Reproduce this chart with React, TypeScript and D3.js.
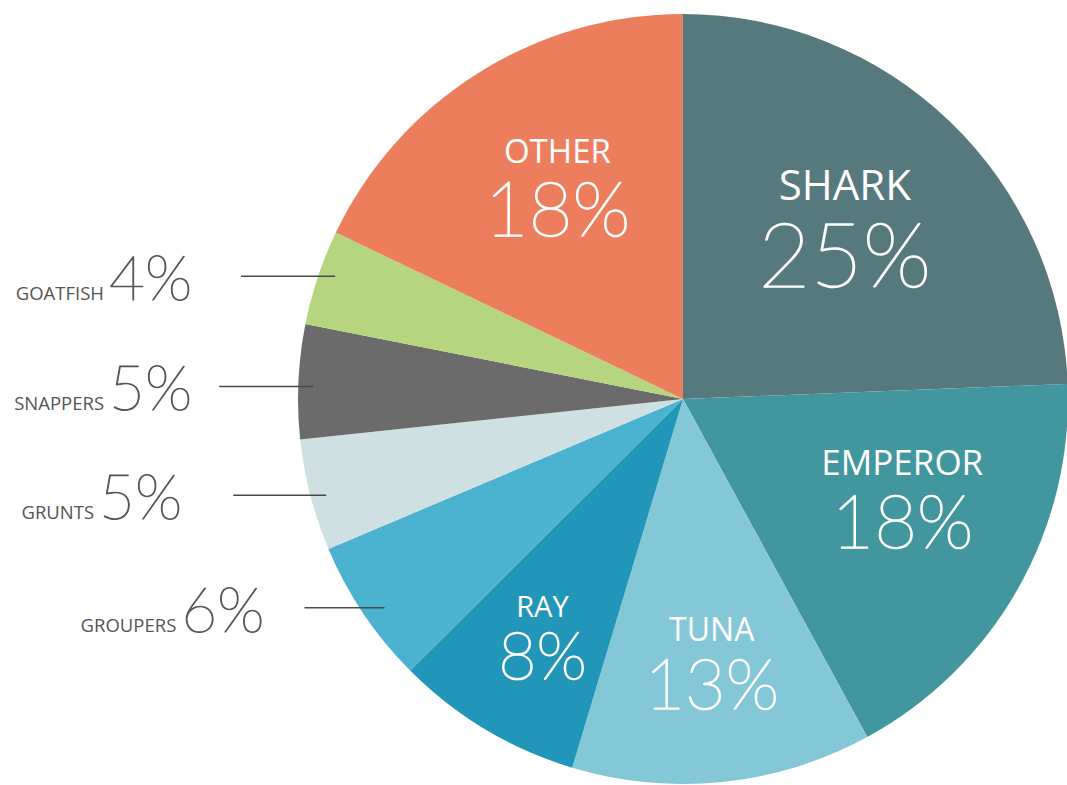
import React, { useMemo } from "react";
import * as d3 from "d3";

// catch composition by family (share of total)
const categories = ["SHARK", "EMPEROR", "TUNA", "RAY", "GROUPERS", "GRUNTS", "SNAPPERS", "GOATFISH", "OTHER"];
const shares = [24.4, 17.7, 12.6, 7.9, 6.1, 4.7, 4.8, 4.0, 17.9];
const pctLabels = ["25%", "18%", "13%", "8%", "6%", "5%", "5%", "4%", "18%"];
const colors = ["#56797d", "#42979e", "#84c8d8", "#2196b9", "#4bb2cf", "#cfe0e2", "#6b6b6b", "#b6d57f", "#ed7e5d"];

// labels drawn inside their slice
const insideLabels = ["SHARK", "EMPEROR", "TUNA", "RAY", "OTHER"];
// labels drawn at the left with a leader line
const outsideLabels = ["GOATFISH", "SNAPPERS", "GRUNTS", "GROUPERS"];

const W = 1067;
const H = 785;
const cx = 683;
const cy = 399;
const R = 385;

// inner label placement: polar anchor (deg, radius) + font sizes + gap
const inner: Record<string, { a: number; r: number; s1: number; s2: number; gap: number }> = {
  SHARK: { a: 43.5, r: 235, s1: 42, s2: 90, gap: 22 },
  OTHER: { a: 329.3, r: 246, s1: 33, s2: 76, gap: 18 },
  EMPEROR: { a: 114.5, r: 241, s1: 35, s2: 74, gap: 19 },
  TUNA: { a: 173.8, r: 266, s1: 32, s2: 70, gap: 17 },
  RAY: { a: 210.5, r: 277, s1: 29, s2: 66, gap: 15 },
};

// leader line tweaks
const outer: Record<string, { dy: number; len: number; gap: number; inset: number }> = {
  GOATFISH: { dy: -1, len: 94, gap: 49, inset: 17 },
  SNAPPERS: { dy: 5, len: 94, gap: 27, inset: 15 },
  GRUNTS: { dy: 0, len: 93, gap: 51, inset: 16 },
  GROUPERS: { dy: -6, len: 80, gap: 40, inset: 25 },
};

const numFont = "Lato, 'Open Sans', sans-serif";
const nameFont = "'Open Sans', 'Noto Sans', sans-serif";

export default function App() {
  const arcs = useMemo(() => {
    const rows = categories.map((c, i) => ({ name: c, value: shares[i], pct: pctLabels[i], color: colors[i] }));
    return d3.pie<any>().sort(null).value(d => d.value)(rows);
  }, []);

  const arc = d3.arc<any>().innerRadius(0).outerRadius(R);
  const rad = (deg: number) => (deg * Math.PI) / 180;

  return (
    <svg width={W} height={H} style={{ position: "absolute", left: 0, top: 0, background: "#fff" }}>
      <g transform={`translate(${cx},${cy})`}>
        {arcs.map(a => (
          <path key={a.data.name} d={arc(a) as string} fill={a.data.color} />
        ))}
      </g>

      {arcs
        .filter(a => insideLabels.includes(a.data.name))
        .map(a => {
          const L = inner[a.data.name];
          const px = cx + Math.sin(rad(L.a)) * L.r;
          const py = cy - Math.cos(rad(L.a)) * L.r;
          const c1 = L.s1 * 0.714;
          const c2 = L.s2 * 0.72;
          const total = c1 + L.gap + c2;
          const top = py - total / 2;
          return (
            <g key={a.data.name} fill="#fff" textAnchor="middle">
              <text x={px} y={top + c1} fontFamily={nameFont} fontSize={L.s1} fontWeight={500}>
                {a.data.name}
              </text>
              <text x={px} y={top + c1 + L.gap + c2} fontFamily={numFont} fontSize={L.s2} fontWeight={100}
                stroke="#fff" strokeWidth={1.6} strokeLinejoin="round">
                {a.data.pct}
              </text>
            </g>
          );
        })}

      {arcs
        .filter(a => outsideLabels.includes(a.data.name))
        .map(a => {
          const L = outer[a.data.name];
          const mid = (a.startAngle + a.endAngle) / 2;
          const y = cy - Math.cos(mid) * R + L.dy;
          const edge = cx - Math.sqrt(R * R - (y - cy) * (y - cy));
          const x2 = edge + L.inset;
          const x1 = x2 - L.len;
          return (
            <g key={a.data.name}>
              <line x1={x1} x2={x2} y1={y} y2={y} stroke="#4a4a4a" strokeWidth={1.4} />
              <text x={x1 - L.gap} y={y + 24} textAnchor="end" fill="#555">
                <tspan fontFamily={nameFont} fontSize={18.5}>{a.data.name}</tspan>
                <tspan dx={5} fontFamily={numFont} fontSize={62} fontWeight={100}
                  stroke="#555" strokeWidth={1.1} strokeLinejoin="round">{a.data.pct}</tspan>
              </text>
            </g>
          );
        })}
    </svg>
  );
}
